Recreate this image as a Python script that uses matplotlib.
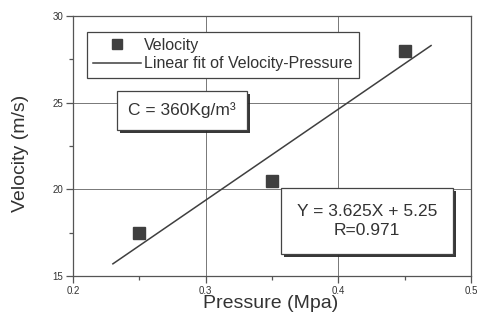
import matplotlib
matplotlib.use("Agg")
import matplotlib.pyplot as plt
import matplotlib.patheffects as pe
from matplotlib.ticker import MultipleLocator

plt.rcParams['font.family'] = ['Liberation Sans', 'DejaVu Sans']

# measured points
pressure = [0.25, 0.35, 0.45]
velocity = [17.5, 20.5, 28.0]

# ends of the fitted line, as drawn
fit_x = [0.23, 0.47]
fit_y = [15.7, 28.3]

eq_text = "Y = 3.625X + 5.25\nR=0.971"
c_text = "C = 360Kg/m³"

dark = '#3f3f3f'

fig = plt.figure(figsize=(4.78, 3.22), dpi=100)
fig.subplots_adjust(left=0.153, right=0.985, bottom=0.143, top=0.950)
ax = fig.add_subplot(111)

ax.plot(pressure, velocity, 's', color=dark, markersize=8.5, label='Velocity', zorder=3)
ax.plot(fit_x, fit_y, '-', color=dark, linewidth=1.1, label='Linear fit of Velocity-Pressure', zorder=3)

ax.set_xlim(0.2, 0.5)
ax.set_ylim(15, 30)
ax.xaxis.set_minor_locator(MultipleLocator(0.05))
ax.yaxis.set_minor_locator(MultipleLocator(2.5))
ax.set_xticks([0.2, 0.3, 0.4, 0.5])
ax.set_xticklabels(['0.2', '0.3', '0.4', '0.5'])
ax.set_yticks([15, 20, 25, 30])
ax.set_yticklabels(['15', '20', '25', '30'])

ax.tick_params(which='major', direction='out', length=5, width=0.9, color='#555555',
               labelsize=7, labelcolor='#333333', pad=2)
ax.tick_params(which='minor', direction='out', length=3, width=0.9, color='#555555')
ax.grid(True, which='major', color='#777777', linewidth=0.7)
ax.set_axisbelow(True)
for s in ax.spines.values():
    s.set_color('#555555')
    s.set_linewidth(0.9)

ax.set_xlabel('Pressure (Mpa)', fontsize=14, color='#333333')
ax.set_ylabel('Velocity (m/s)', fontsize=14, color='#333333')
ax.xaxis.set_label_coords(0.497, -0.075)
ax.yaxis.set_label_coords(-0.11, 0.47)

leg = ax.legend(loc='upper left', bbox_to_anchor=(0.035, 0.94), fontsize=11.5,
                fancybox=False, frameon=True, edgecolor='#444444', framealpha=1,
                handlelength=3.0, borderpad=0.4, labelspacing=0.2,
                handletextpad=0.15, borderaxespad=0, markerscale=0.9)
leg.get_frame().set_linewidth(0.9)
leg.set_zorder(5)
for t in leg.get_texts():
    t.set_color('#333333')

# boxes with a dark drop shadow, like the original
shadow = [pe.SimplePatchShadow(offset=(2.2, -2.2), shadow_rgbFace='#222222', alpha=0.9), pe.Normal()]

t1 = ax.text(0.274, 0.637, c_text, transform=ax.transAxes, fontsize=12.5,
             ha='center', va='center', color='#333333', zorder=6,
             bbox=dict(boxstyle='square,pad=0.65', facecolor='white', edgecolor='#444444', linewidth=0.9))
t1.get_bbox_patch().set_path_effects(shadow)

t2 = ax.text(0.739, 0.2115, eq_text, transform=ax.transAxes, fontsize=12.5,
             ha='center', va='center', color='#333333', zorder=6, linespacing=1.35,
             bbox=dict(boxstyle='square,pad=0.9', facecolor='white', edgecolor='#444444', linewidth=0.9))
t2.get_bbox_patch().set_path_effects(shadow)

fig.savefig('out.png', dpi=100)
